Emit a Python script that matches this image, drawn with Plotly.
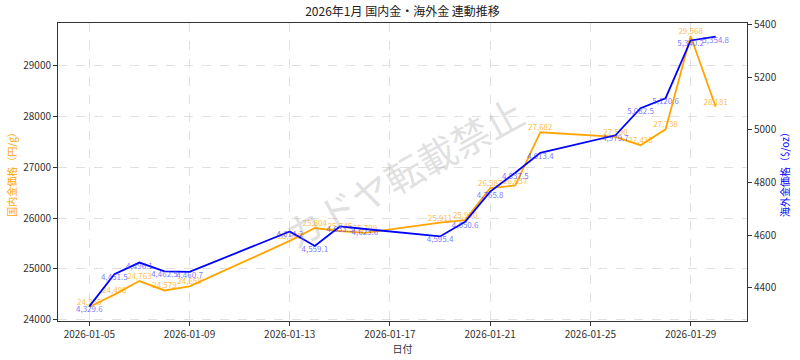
import plotly.graph_objects as go

dates = ["2026-01-05", "2026-01-06", "2026-01-07", "2026-01-08", "2026-01-09",
         "2026-01-13", "2026-01-14", "2026-01-15", "2026-01-16",
         "2026-01-19", "2026-01-20", "2026-01-21", "2026-01-22", "2026-01-23",
         "2026-01-26", "2026-01-27", "2026-01-28", "2026-01-29", "2026-01-30"]
domestic_jpy_g = [24255, 24498, 24763, 24579, 24658,
                  25550, 25804, 25745, 25709,
                  25911, 25960, 26587, 26637, 27682,
                  27590, 27428, 27738, 29568, 28181]
overseas_usd_oz = [4329.6, 4451.5, 4496.1, 4462.5, 4460.7,
                   4614.2, 4559.1, 4633.3, 4623.6,
                   4595.4, 4650.6, 4765.8, 4837.5, 4913.4,
                   4979.7, 5082.5, 5120.6, 5340.2, 5354.8]
left_ticks = [24000, 25000, 26000, 27000, 28000, 29000]
right_ticks = [4400, 4600, 4800, 5000, 5200, 5400]
x_ticks = ["2026-01-05", "2026-01-09", "2026-01-13", "2026-01-17",
           "2026-01-21", "2026-01-25", "2026-01-29"]

FONT = "Noto Sans CJK JP"
ORANGE = "#FFA500"
BLUE = "#0000FF"

fig = go.Figure()
fig.add_trace(go.Scatter(
    x=dates, y=domestic_jpy_g, mode="lines+text", yaxis="y",
    line=dict(color=ORANGE, width=1.8),
    text=[f"{v:,.0f}" for v in domestic_jpy_g],
    textposition="top center",
    textfont=dict(family=FONT, size=8, color="rgba(255,165,0,0.75)"),
    showlegend=False, cliponaxis=False, hoverinfo="skip",
))
fig.add_trace(go.Scatter(
    x=dates, y=overseas_usd_oz, mode="lines+text", yaxis="y2",
    line=dict(color=BLUE, width=1.8),
    text=[f"{v:,.1f}" for v in overseas_usd_oz],
    textposition="bottom center",
    textfont=dict(family=FONT, size=8, color="rgba(60,60,255,0.7)"),
    showlegend=False, cliponaxis=False, hoverinfo="skip",
))

fig.add_annotation(
    text="カドヤ転載禁止", xref="paper", yref="paper", x=0.5, y=0.5,
    showarrow=False, textangle=-29,
    font=dict(family=FONT, size=38, color="rgba(150,150,150,0.3)"),
)

fig.update_layout(
    width=800, height=360,
    margin=dict(l=58, r=53, t=23, b=39, autoexpand=False),
    paper_bgcolor="white", plot_bgcolor="white",
    font=dict(family=FONT, size=11, color="#333333"),
    title=dict(text="2026年1月 国内金・海外金 連動推移", x=0.5, xanchor="center",
               xref="paper", y=1 - 12 / 360, yanchor="middle", automargin=False,
               font=dict(family=FONT, size=12, color="#222222")),
    xaxis=dict(
        type="date", range=["2026-01-03 18:00", "2026-01-31 06:00"],
        tickvals=x_ticks, ticktext=x_ticks, automargin=False,
        showgrid=True, gridcolor="#e0e0e0", griddash="dash", gridwidth=1,
        showline=True, linecolor="#333333", linewidth=1, mirror=True,
        ticks="outside", ticklen=4, tickcolor="#333333",
        tickfont=dict(family=FONT, size=10, color="#333333"),
        title=dict(text="日付", font=dict(family=FONT, size=10, color="#333333"), standoff=2),
        zeroline=False,
    ),
    yaxis=dict(
        range=[23980, 29824], tickvals=left_ticks, ticktext=[str(v) for v in left_ticks],
        automargin=False,
        showgrid=True, gridcolor="#e0e0e0", griddash="dash", gridwidth=1,
        showline=True, linecolor="#333333", linewidth=1,
        ticks="outside", ticklen=4, tickcolor="#333333",
        tickfont=dict(family=FONT, size=10, color="#333333"),
        title=dict(text="国内金価格（円/g）", font=dict(family=FONT, size=10, color=ORANGE), standoff=4),
        zeroline=False,
    ),
    yaxis2=dict(
        range=[4274, 5406.5], tickvals=right_ticks, ticktext=[str(v) for v in right_ticks],
        overlaying="y", side="right", showgrid=False, automargin=False,
        showline=True, linecolor="#333333", linewidth=1,
        ticks="outside", ticklen=4, tickcolor="#333333",
        tickfont=dict(family=FONT, size=10, color="#333333"),
        title=dict(text="海外金価格（$/oz）", font=dict(family=FONT, size=10, color=BLUE), standoff=2),
        zeroline=False,
    ),
)

fig.write_html("out.html", config={"displayModeBar": False},
               post_script="document.body.style.margin='0';document.body.style.overflow='hidden';")
